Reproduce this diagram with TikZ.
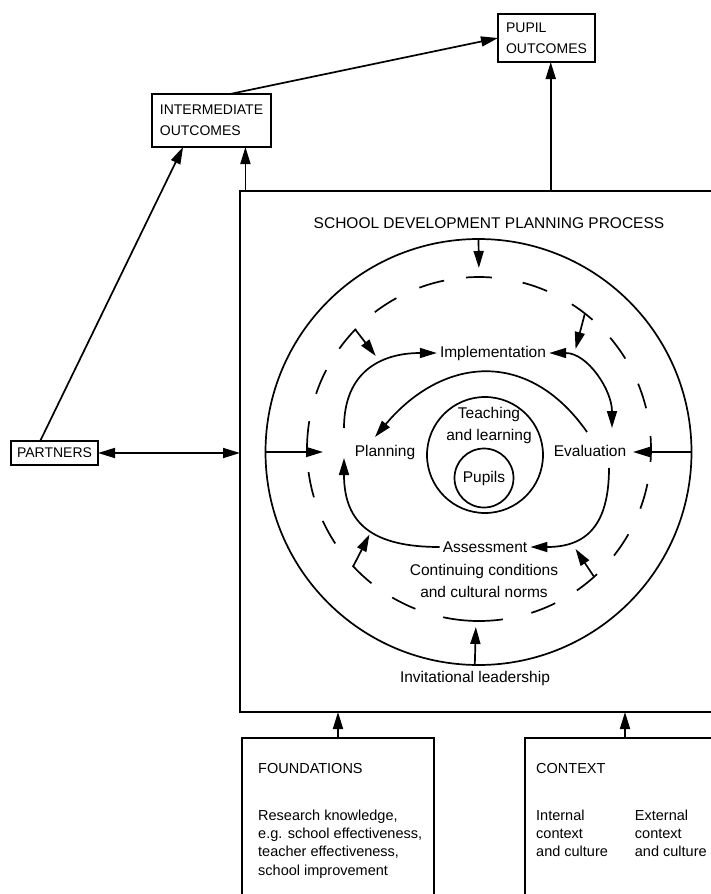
\documentclass[tikz,border=0pt]{standalone}
\usepackage{fontspec}
\setmainfont{Liberation Sans}
\usetikzlibrary{arrows.meta}

\tikzset{
	box/.style={draw, line width=2pt, inner sep=0pt, outer sep=0pt},
	outcome/.style={box, align=left, font=\fontsize{14}{21}\selectfont},
	lbl/.style={font=\fontsize{15.5}{22}\selectfont, inner sep=3pt, align=center},
	txt/.style={anchor=north west, align=left, inner sep=3pt, font=\fontsize{14.5}{18.3}\selectfont},
	circ/.style={circle, draw, line width=1.7pt, inner sep=0pt, outer sep=0pt},
	guide/.style={circle, inner sep=0pt, outer sep=0pt},
	arr/.style={-{Triangle[length=17pt,width=10pt]}, line width=1.7pt},
	darr/.style={{Triangle[length=17pt,width=10pt]}-{Triangle[length=17pt,width=10pt]}, line width=1.7pt},
}

\begin{document}
\begin{tikzpicture}[x=1pt, y=1pt]
		\useasboundingbox (0,0) rectangle (711,-894);
		% outcomes and partners
		\node[outcome, minimum width=97, minimum height=48] (pupil) at (546.5,-38) {PUPIL\\OUTCOMES};
		\node[outcome, minimum width=119, minimum height=53] (inter) at (211.5,-120.5) {INTERMEDIATE\\OUTCOMES};
		\node[outcome, minimum width=87, minimum height=24] (partners) at (54.5,-453) {PARTNERS};
		% planning process
		\node[box, anchor=north west, minimum width=480, minimum height=521] (sdpp) at (240,-191) {};
		\node[lbl] at (489,-223) {SCHOOL DEVELOPMENT PLANNING PROCESS};
		% foundations and context
		\node[box, anchor=north west, minimum width=192, minimum height=170] (found) at (242,-738) {};
		\node[box, anchor=north west, minimum width=200, minimum height=170] (context) at (525,-738) {};
		\node[txt] at (255,-760) {FOUNDATIONS\\[28.7pt]Research knowledge,\\e.g. school effectiveness,\\teacher effectiveness,\\school improvement};
		\node[txt] at (533,-760) {CONTEXT\\[28.7pt]\begin{tabular}[t]{@{}l@{\hspace{27pt}}l@{}}Internal&External\\context&context\\and culture&and culture\end{tabular}};
		% links between boxes
		\draw[arr] (inter.55) -- (pupil.west);
		\draw[arr] (sdpp.north -| pupil.-80) -- (pupil.-80);
		\draw[arr] (sdpp.north -| inter.-38) -- (inter.-38);
		\draw[arr] (partners.140) -- (inter.-137);
		\draw[darr] (partners.east) -- (partners.east -| sdpp.west);
		\draw[arr] (found.north) -- (found.north |- sdpp.south);
		\draw[arr] (context.north) -- (context.north |- sdpp.south);
		% rings
		\node[circ, minimum size=426] (outer) at (478.5,-452) {};
		\node[circ, minimum size=116] (teach) at (485,-455) {};
		\node[circ, lbl, minimum size=59] (pupils) at (484,-478) {Pupils};
		\coordinate (dc) at (479,-449);
		\node[guide, minimum size=344] (dash) at (dc) {};
		\node[guide, minimum size=278] (inner) at (dc) {};
		% dashed ring
		\foreach \a in {0,18,36,53,71,90,106,123,140,157,175,192,209,227,244,292,309,326,344}
			\draw[line width=1.7pt] (dc) ++(\a-4.3:172) arc[start angle=\a-4.3, delta angle=8.6, radius=172];
		\draw[line width=1.7pt] (dc) ++(258:172) arc[start angle=258, end angle=278, radius=172];
		% cycle labels
		\node[lbl] (impl) at (493,-353) {Implementation};
		\node[lbl] (pln) at (385,-452) {Planning};
		\node[lbl] (evl) at (590,-451) {Evaluation};
		\node[lbl] (asmt) at (485,-547) {Assessment};
		\node[lbl] at (489,-425) {Teaching\\and learning};
		\node[lbl] at (484,-581) {Continuing conditions\\and cultural norms};
		\node[lbl] at (475,-678) {Invitational leadership};
		% curve ends
		\coordinate (pl-up) at (344,-428);
		\coordinate (pl-dn) at (344,-458);
		\coordinate (pl-in) at (375,-437);
		\coordinate (ev-up) at (612,-428);
		\coordinate (ev-dn) at (609,-468);
		\coordinate (ev-in) at (587,-432);
		\coordinate (lt-tip) at (323,-452);
		\coordinate (rt-tip) at (633,-452);
		% cycle
		\draw[arr] (pl-up) to[out=90, in=180, looseness=1.2] (impl.west);
		\draw[darr] (impl.east) to[out=0, in=90] (ev-up);
		\draw[arr] (ev-in) to[out=125, in=50, looseness=1.25] (pl-in);
		\draw[arr] (ev-dn) to[out=-90, in=0, looseness=1.3] (asmt.east);
		\draw[arr] (asmt.west) to[out=180, in=-90, looseness=1.3] (pl-dn);
		% arrows from the rings
		\draw[arr, shorten >=9pt] (outer.north) -- (dash.north);
		\draw[arr, shorten >=6pt] (outer.-91.5) -- (dash.-91.5);
		\draw[arr] (outer.west) -- (lt-tip);
		\draw[arr] (outer.east) -- (rt-tip);
		\draw[arr] (dash.136) -- (inner.138);
		\draw[arr] (dash.52) -- (inner.46);
		\draw[arr] (dash.223) -- (inner.218);
		\draw[arr] (dash.312) -- (inner.314);
	\end{tikzpicture}
\end{document}
